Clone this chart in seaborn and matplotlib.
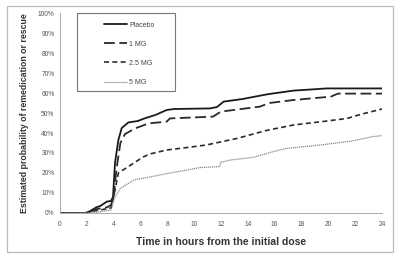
import numpy as np
import pandas as pd
import matplotlib
matplotlib.use("Agg")
import matplotlib.pyplot as plt
import seaborn as sns
from matplotlib.patches import Rectangle

# curves (hours, % probability)
placebo_t = [0, 1.9, 2.2, 2.5, 2.7, 3.0, 3.5, 3.8, 3.95, 4.1, 4.35, 4.6, 5.1, 5.8, 6.3, 7.1, 7.95, 8.5, 11.2, 11.7, 12.2, 13.6, 15.4, 15.9, 17.4, 19.9, 24]
placebo_p = [0, 0, 0.8, 2.0, 2.8, 3.5, 5.7, 6.0, 8.0, 25.0, 36.5, 42.5, 45.3, 46.0, 47.3, 49.0, 51.5, 52.0, 52.3, 53.0, 55.7, 57.0, 59.3, 59.8, 61.2, 62.3, 62.3]

mg1_t = [0, 2.1, 2.6, 3.5, 3.8, 4.0, 4.2, 4.5, 4.85, 5.6, 6.6, 7.95, 8.2, 11.4, 12.0, 14.9, 15.6, 17.4, 20.2, 20.7, 24]
mg1_p = [0, 0, 1.8, 2.8, 4.0, 8.0, 21.5, 35.0, 39.5, 42.3, 44.8, 45.7, 47.3, 48.2, 50.7, 53.2, 55.0, 56.5, 58.2, 59.7, 59.7]

mg25_t = [0, 2.1, 2.5, 3.0, 3.8, 4.1, 4.35, 4.7, 5.46, 6.2, 6.7, 7.95, 9.2, 10.9, 13.2, 15.4, 17.4, 19.9, 21.4, 22.4, 24]
mg25_p = [0, 0, 1.0, 1.5, 2.5, 11.5, 20.0, 21.5, 24.8, 28.0, 29.5, 31.5, 32.5, 34.0, 37.3, 41.3, 44.0, 46.0, 47.3, 49.3, 52.0]

mg5_t = [0, 2.5, 3.0, 3.8, 4.1, 4.5, 5.5, 6.7, 8.2, 9.7, 10.4, 11.9, 12.0, 12.7, 14.4, 15.9, 16.9, 19.4, 21.8, 23.3, 24]
mg5_p = [0, 0, 0.7, 1.5, 8.0, 12.3, 16.5, 18.0, 20.0, 21.8, 22.7, 23.2, 25.3, 26.5, 27.8, 30.7, 32.3, 34.0, 36.0, 38.2, 38.7]

groups = ["Placebo", "1 MG", "2.5 MG", "5 MG"]
x_ticks = list(range(0, 25, 2))
y_ticks = list(range(0, 101, 10))

frames = []
for name, t, p in zip(groups, [placebo_t, mg1_t, mg25_t, mg5_t], [placebo_p, mg1_p, mg25_p, mg5_p]):
    frames.append(pd.DataFrame({"hours": t, "prob": p, "group": name}))
df = pd.concat(frames, ignore_index=True)

sns.set_style("white")
plt.rcParams["font.family"] = ["Liberation Sans", "DejaVu Sans"]

fig = plt.figure(figsize=(4, 2.61), dpi=100)
ax = fig.add_axes([0.15, 0.184, 0.805, 0.766])

palette = {"Placebo": "#1a1a1a", "1 MG": "#2a2a2a", "2.5 MG": "#2a2a2a", "5 MG": "#8a8a8a"}
dashes = {"Placebo": "", "1 MG": (6, 2.5), "2.5 MG": (3, 2), "5 MG": (1, 0.6)}
widths = {"Placebo": 1.3, "1 MG": 1.3, "2.5 MG": 1.2, "5 MG": 0.9}

sns.lineplot(data=df, x="hours", y="prob", hue="group", style="group",
             palette=palette, dashes=dashes, hue_order=groups, style_order=groups,
             estimator=None, sort=False, ax=ax, linewidth=1.2)
for line, g in zip(ax.get_lines(), groups):
    line.set_linewidth(widths[g])

ax.set_xlim(0, 24)
ax.set_ylim(0, 100)
ax.set_xticks(x_ticks)
ax.set_yticks(y_ticks)
ax.set_yticklabels([f"{v}%" for v in y_ticks])
ax.tick_params(axis="both", labelsize=4.8, labelcolor="#555555", length=2, color="#999999", pad=2)
ax.tick_params(axis="x", pad=4)
for s in ["top", "right"]:
    ax.spines[s].set_visible(False)
for s in ["left", "bottom"]:
    ax.spines[s].set_color("#aaaaaa")
    ax.spines[s].set_linewidth(0.7)

ax.set_xlabel("Time in hours from the initial dose", fontsize=7.5, fontweight="bold", color="#333333", labelpad=6)
ax.set_ylabel("Estimated probability of remedication or rescue", fontsize=6.3, fontweight="bold", color="#333333", labelpad=6)

# legend box drawn separately (wide frame with lots of room on the left)
ax.add_patch(Rectangle((0.053, 0.61), 0.304, 0.39, transform=ax.transAxes, fill=False,
                       edgecolor="#777777", linewidth=0.8, zorder=5, clip_on=False))
handles, labels = ax.get_legend_handles_labels()
for h, g in zip(handles, groups):
    h.set_linewidth(widths[g])
leg = ax.legend(handles, labels, loc="upper left", bbox_to_anchor=(0.125, 0.975),
                fontsize=5, frameon=False, labelspacing=1.75,
                handlelength=3.3, handletextpad=0.4, borderpad=0.5, borderaxespad=0)
for t in leg.get_texts():
    t.set_color("#444444")

fig.patches.append(Rectangle((0.0175, 0.034), 0.965, 0.943, transform=fig.transFigure,
                             fill=False, edgecolor="#bbbbbb", linewidth=0.9))

fig.savefig("out.png", dpi=100)
